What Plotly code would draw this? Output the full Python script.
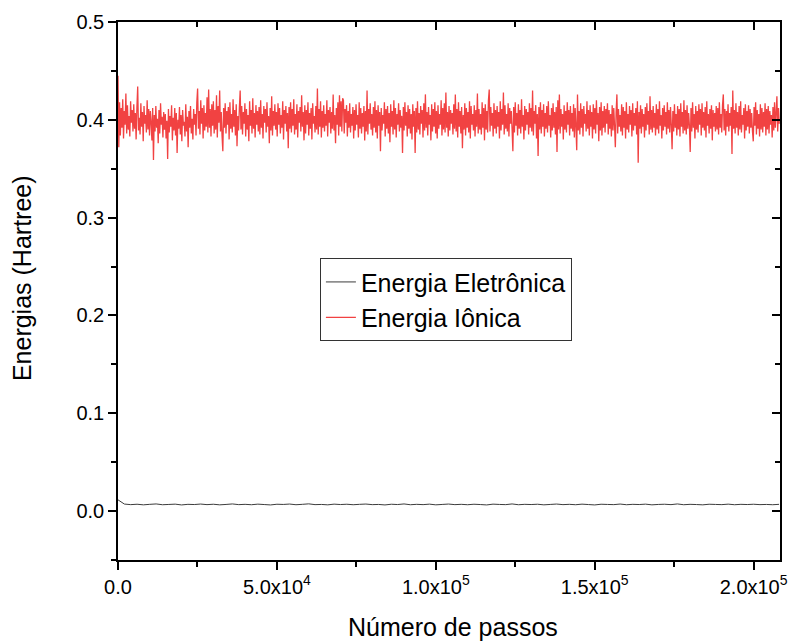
import plotly.graph_objects as go

# ---------------- data ----------------
step_interval_ionic = 248        # passos between consecutive ionic samples
step_interval_elec = 2000        # passos between consecutive electronic samples

# Energia Iônica in mHartree
energia_ionica_mha = [
    445, 372, 418, 384, 412, 392, 421, 381, 409, 395, 427, 386, 415, 390, 404, 383, 419, 397, 410, 388,
    416, 391, 407, 380, 413, 434, 389, 402, 385, 417, 393, 408, 378, 414, 396, 405, 387, 420, 390, 411,
    384, 409, 398, 379, 412, 359, 405, 388, 414, 392, 401, 376, 410, 386, 417, 395, 403, 382, 408, 390,
    406, 381, 399, 360, 411, 387, 404, 393, 415, 379, 402, 389, 412, 384, 407, 366, 400, 391, 413, 385,
    405, 378, 410, 394, 398, 383, 416, 388, 403, 372, 409, 392, 414, 386, 401, 380, 411, 395, 406, 384,
    418, 432, 391, 409, 385, 420, 396, 412, 381, 415, 389, 407, 393, 423, 387, 431, 392, 411, 383, 416,
    394, 419, 386, 410, 390, 425, 382, 414, 397, 430, 388, 408, 384, 368, 412, 392, 417, 386, 409, 395,
    413, 380, 418, 391, 406, 387, 421, 393, 410, 384, 416, 373, 404, 389, 412, 430, 390, 414, 385, 408,
    396, 417, 383, 411, 390, 405, 378, 419, 394, 410, 386, 422, 391, 407, 382, 415, 395, 409, 388, 413,
    385, 420, 392, 406, 381, 414, 397, 411, 387, 418, 393, 404, 376, 412, 389, 424, 384, 409, 394, 416,
    390, 408, 383, 417, 395, 412, 386, 405, 392, 419, 380, 410, 396, 414, 388, 407, 371, 413, 391, 418,
    387, 411, 394, 421, 385, 406, 390, 416, 382, 409, 397, 413, 388, 425, 393, 408, 379, 415, 386, 410,
    395, 418, 384, 407, 391, 412, 380, 417, 396, 404, 387, 414, 390, 432, 385, 411, 393, 419, 382, 409,
    392, 415, 388, 406, 394, 420, 383, 410, 397, 413, 386, 408, 391, 426, 389, 405, 376, 412, 395, 418,
    384, 425, 393, 419, 388, 422, 420, 386, 411, 397, 415, 383, 409, 392, 417, 387, 406, 394, 413, 381,
    410, 389, 416, 395, 405, 382, 418, 391, 412, 386, 407, 393, 414, 379, 409, 388, 430, 385, 411, 396,
    417, 390, 406, 384, 413, 392, 419, 387, 410, 381, 415, 394, 408, 368, 412, 389, 405, 396, 418, 383,
    411, 391, 414, 386, 407, 377, 416, 393, 409, 385, 420, 390, 412, 382, 406, 395, 417, 388, 410, 392,
    404, 366, 413, 389, 418, 394, 408, 383, 415, 391, 411, 386, 406, 380, 416, 393, 409, 366, 412, 387,
    419, 390, 407, 385, 414, 396, 410, 382, 417, 389, 426, 392, 408, 384, 413, 395, 405, 379, 416, 388,
    411, 393, 418, 386, 409, 381, 415, 391, 406, 395, 420, 384, 412, 390, 417, 387, 428, 392, 408, 383,
    414, 389, 410, 396, 407, 385, 416, 391, 426, 388, 411, 382, 418, 393, 409, 386, 413, 371, 405, 390,
    417, 384, 412, 392, 408, 387, 419, 381, 414, 395, 406, 389, 415, 383, 410, 393, 427, 386, 411, 390,
    406, 385, 418, 392, 412, 379, 416, 390, 409, 387, 420, 431, 388, 413, 394, 407, 383, 417, 391, 410,
    386, 414, 393, 408, 381, 419, 389, 411, 395, 428, 385, 415, 391, 406, 388, 417, 383, 412, 396, 409,
    390, 368, 413, 387, 418, 394, 407, 384, 416, 391, 410, 386, 421, 393, 405, 380, 414, 389, 411, 395,
    408, 385, 417, 392, 412, 388, 430, 384, 409, 396, 415, 381, 406, 363, 413, 390, 418, 386, 410, 393,
    416, 383, 407, 391, 414, 387, 419, 394, 405, 382, 412, 389, 417, 392, 408, 385, 413, 367, 420, 390,
    426, 386, 411, 393, 406, 380, 415, 390, 409, 387, 418, 395, 410, 384, 414, 391, 407, 388, 416, 382,
    412, 394, 369, 426, 389, 409, 385, 417, 392, 411, 383, 414, 396, 406, 388, 419, 391, 410, 384, 415,
    393, 408, 381, 416, 390, 412, 386, 420, 395, 407, 378, 413, 389, 418, 384, 409, 392, 414, 387, 411,
    396, 417, 385, 410, 391, 406, 383, 415, 389, 412, 394, 372, 408, 426, 386, 411, 393, 405, 388, 416,
    384, 413, 392, 409, 381, 418, 390, 406, 387, 414, 395, 410, 383, 417, 389, 407, 394, 412, 385, 419,
    356, 408, 391, 415, 386, 411, 393, 406, 382, 413, 389, 417, 395, 409, 385, 424, 390, 410, 387, 414,
    392, 407, 384, 416, 390, 411, 386, 419, 394, 405, 381, 412, 389, 415, 393, 408, 385, 418, 391, 410,
    387, 413, 395, 370, 409, 388, 416, 392, 406, 384, 414, 390, 411, 383, 417, 393, 408, 386, 420, 389,
    410, 385, 415, 391, 407, 394, 367, 412, 388, 418, 392, 406, 381, 414, 390, 409, 387, 416, 395, 411,
    384, 417, 392, 408, 389, 413, 382, 419, 394, 406, 386, 411, 391, 415, 379, 410, 393, 407, 388, 414,
    390, 412, 385, 418, 392, 406, 387, 415, 426, 389, 411, 384, 409, 393, 416, 388, 407, 394, 413, 365,
    430, 391, 410, 386, 417, 392, 408, 384, 414, 390, 419, 387, 405, 395, 412, 381, 416, 389, 409, 393,
    415, 386, 411, 392, 407, 388, 378, 413, 394, 418, 385, 410, 391, 406, 383, 416, 390, 412, 387, 408,
    393, 417, 384, 411, 390, 414, 386, 409, 395, 405, 382, 413, 389, 418, 392, 407, 424, 388, 412, 396,
]

# Energia Eletrônica in mHartree
energia_eletronica_mha = [
    11.5, 7.2, 6.6, 7.0, 6.4, 6.9, 7.3, 6.5, 6.8, 7.1,
    6.3, 6.9, 6.7, 7.2, 6.6, 7.0, 6.4, 6.8, 7.3, 6.6,
    6.9, 6.5, 7.1, 6.7, 6.3, 7.0, 6.8, 7.2, 6.5, 6.9,
    7.4, 6.6, 6.8, 6.4, 7.1, 6.7, 7.0, 6.5, 6.9, 7.2,
    6.6, 6.8, 6.3, 7.0, 6.7, 7.3, 6.5, 6.9, 6.6, 7.1,
    6.4, 6.8, 7.2, 6.6, 6.9, 6.5, 7.0, 6.7, 6.3, 7.1,
    6.8, 6.6, 7.3, 6.5, 6.9, 6.7, 7.0, 6.4, 6.8, 7.2,
    6.6, 6.9, 6.5, 7.1, 6.7, 6.3, 7.0, 6.8, 6.6, 7.2,
    6.5, 6.9, 6.7, 7.1, 6.4, 6.8, 7.0, 6.6, 7.3, 6.5,
    6.9, 6.7, 6.4, 7.0, 6.8, 6.6, 7.1, 6.5, 6.9, 6.7,
    7.0, 6.6, 6.8, 6.5, 6.9,
]

x_tick_vals = [0, 50000, 100000, 150000, 200000]
x_tick_text = ["0.0", "5.0x10<sup>4</sup>", "1.0x10<sup>5</sup>", "1.5x10<sup>5</sup>", "2.0x10<sup>5</sup>"]
y_tick_vals = [0.0, 0.1, 0.2, 0.3, 0.4, 0.5]
y_tick_text = ["0.0", "0.1", "0.2", "0.3", "0.4", "0.5"]

x_range = [0, 208300]
y_range = [-0.05, 0.5]

MHA_TO_HA = 1e-3
energia_ionica = [v * MHA_TO_HA for v in energia_ionica_mha]
energia_eletronica = [v * MHA_TO_HA for v in energia_eletronica_mha]
passos_ionica = [i * step_interval_ionic for i in range(len(energia_ionica))]
passos_eletronica = [i * step_interval_elec for i in range(len(energia_eletronica))]

# ---------------- figure ----------------
FONT = "Liberation Sans, Arial, sans-serif"

fig = go.Figure()
# electronic series lives on the mirrored (top/right) axes, which share the same ranges
fig.add_trace(go.Scatter(
    x=passos_eletronica, y=energia_eletronica, mode="lines", xaxis="x2", yaxis="y2",
    name="Energia Eletrônica", line=dict(color="#3c3c3c", width=1, simplify=False),
))
fig.add_trace(go.Scatter(
    x=passos_ionica, y=energia_ionica, mode="lines",
    name="Energia Iônica", line=dict(color="rgb(241,66,66)", width=1.3, simplify=False),
))

common_axis = dict(showgrid=False, zeroline=False, showline=True, automargin=False,
                   linecolor="black", linewidth=1.5, tickcolor="black", tickwidth=1.5)

fig.update_layout(
    width=790, height=641,
    margin=dict(l=118, r=10, t=22, b=81),
    paper_bgcolor="white", plot_bgcolor="white",
    font=dict(family=FONT, color="black"),
    xaxis=dict(
        **common_axis, range=x_range, tickmode="array",
        tickvals=x_tick_vals, ticktext=x_tick_text,
        ticks="outside", ticklen=8, tickfont=dict(size=20),
        minor=dict(tickmode="linear", tick0=0, dtick=25000, ticks="outside",
                   ticklen=5, tickcolor="black", tickwidth=1.5),
    ),
    yaxis=dict(
        **common_axis, range=y_range, tickmode="array",
        tickvals=y_tick_vals, ticktext=y_tick_text,
        ticks="outside", ticklen=8, tickfont=dict(size=20),
        minor=dict(tickmode="linear", tick0=0, dtick=0.05, ticks="outside",
                   ticklen=5, tickcolor="black", tickwidth=1.5),
    ),
    xaxis2=dict(
        **common_axis, range=x_range, overlaying="x", side="top", anchor="y2",
        tickmode="array", tickvals=x_tick_vals, ticks="inside", ticklen=8,
        showticklabels=False,
        minor=dict(tickmode="linear", tick0=0, dtick=25000, ticks="inside",
                   ticklen=5, tickcolor="black", tickwidth=1.5),
    ),
    yaxis2=dict(
        **common_axis, range=y_range, overlaying="y", side="right", anchor="x2",
        tickmode="array", tickvals=y_tick_vals, ticks="inside", ticklen=8,
        showticklabels=False,
        minor=dict(tickmode="linear", tick0=0, dtick=0.05, ticks="inside",
                   ticklen=5, tickcolor="black", tickwidth=1.5),
    ),
    legend=dict(
        x=0.305, y=0.561, xanchor="left", yanchor="top",
        bgcolor="white", bordercolor="#333333", borderwidth=1,
        font=dict(size=25, color="black"), tracegroupgap=0,
    ),
    annotations=[
        dict(text="Número de passos", xref="paper", yref="paper",
             x=0.506, y=-0.124, xanchor="center", yanchor="middle",
             showarrow=False, font=dict(size=25)),
        dict(text="Energias (Hartree)", xref="paper", yref="paper",
             x=-0.145, y=0.524, xanchor="center", yanchor="middle",
             textangle=-90, showarrow=False, font=dict(size=25)),
    ],
    showlegend=True,
)

fig.write_html(
    "out.html",
    config={"displayModeBar": False},
    post_script="document.body.style.margin='0';document.body.style.overflow='hidden';",
)
